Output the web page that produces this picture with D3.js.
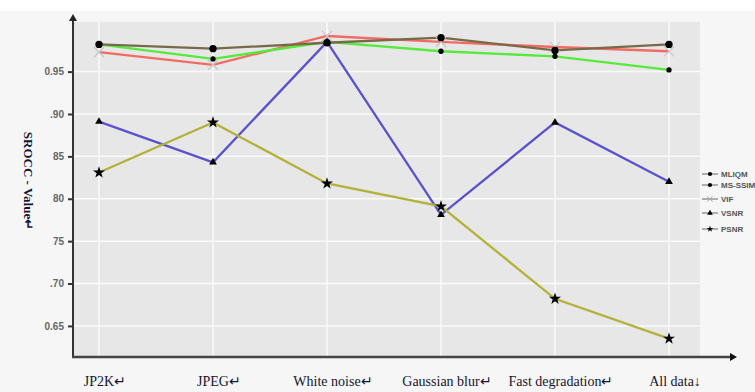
<!DOCTYPE html>
<html>
<head>
<meta charset="utf-8">
<script src="https://cdn.jsdelivr.net/npm/d3@7"></script>
<style>
  body { margin: 0; background: #ffffff; }
  svg { display: block; }
</style>
</head>
<body>
<div id="chart"></div>
<script>
// data
var categories = ["JP2K", "JPEG", "White noise", "Gaussian blur", "Fast degradation", "All data"];
var catLabels = ["JP2K\u21b5", "JPEG\u21b5", "White noise\u21b5", "Gaussian blur\u21b5", "Fast degradation\u21b5", "All data\u2193"];
var seriesNames = ["MLIQM", "MS-SSIM", "VIF", "VSNR", "PSNR"];
var mliqm = [0.982, 0.977, 0.984, 0.990, 0.975, 0.982];
var msssim = [0.982, 0.965, 0.985, 0.974, 0.968, 0.952];
var vif = [0.973, 0.958, 0.992, 0.985, 0.979, 0.974];
var vsnr = [0.891, 0.843, 0.985, 0.781, 0.890, 0.820];
var psnr = [0.831, 0.890, 0.818, 0.791, 0.682, 0.635];
var tickValues = [0.65, 0.70, 0.75, 0.80, 0.85, 0.90, 0.95];
var tickLabels = ["0.65", ".70", "75", "80", "85", ".90", "0.95"];

var svgWidth = 755, svgHeight = 392;
var plot = { left: 74, right: 700, top: 22, bottom: 356 };

var svg = d3.select("#chart").append("svg")
  .attr("width", svgWidth)
  .attr("height", svgHeight);

// page background
svg.append("rect").attr("x", 0).attr("y", 11).attr("width", svgWidth).attr("height", svgHeight - 11)
  .attr("fill", "#f6f6f6");

var x = d3.scalePoint().domain(categories).range([99, 669]);
var y = d3.scaleLinear().domain([0.6145, 1.0085]).range([plot.bottom, plot.top]);

// plot area
svg.append("rect")
  .attr("x", plot.left).attr("y", plot.top)
  .attr("width", plot.right - plot.left).attr("height", plot.bottom - plot.top)
  .attr("fill", "#e7e7e7");

// grid
svg.append("g").selectAll("line.h")
  .data(tickValues)
  .enter().append("line")
  .attr("x1", plot.left).attr("x2", plot.right)
  .attr("y1", d => y(d)).attr("y2", d => y(d))
  .attr("stroke", "#fafafa").attr("stroke-width", 1.5);

svg.append("g").selectAll("line.v")
  .data(categories)
  .enter().append("line")
  .attr("x1", d => x(d)).attr("x2", d => x(d))
  .attr("y1", plot.top).attr("y2", plot.bottom)
  .attr("stroke", "#fafafa").attr("stroke-width", 1.5);

// y axis ticks
var yAxis = d3.axisLeft(y)
  .tickValues(tickValues)
  .tickSize(5)
  .tickPadding(4)
  .tickFormat((d, i) => tickLabels[i]);

var yg = svg.append("g")
  .attr("transform", `translate(${plot.left - 1}, 0)`)
  .call(yAxis);
yg.select(".domain").remove();
yg.selectAll(".tick line").attr("stroke", "#333").attr("stroke-width", 2);
yg.selectAll(".tick text")
  .attr("fill", "#666")
  .style("font-family", "Liberation Sans, Arial, sans-serif")
  .style("font-weight", "bold")
  .style("font-size", "10px");

// axis lines with arrows
svg.append("line")
  .attr("x1", plot.left - 1).attr("x2", plot.left - 1)
  .attr("y1", plot.bottom + 1).attr("y2", 19)
  .attr("stroke", "#333").attr("stroke-width", 2);
svg.append("path")
  .attr("d", `M${plot.left - 5},${21} L${plot.left - 1},${14} L${plot.left + 3},${21} Z`)
  .attr("fill", "#222");

svg.append("line")
  .attr("x1", plot.left - 2).attr("x2", 732)
  .attr("y1", plot.bottom + 1).attr("y2", plot.bottom + 1)
  .attr("stroke", "#444").attr("stroke-width", 2.5);
svg.append("path")
  .attr("d", `M${730},${plot.bottom - 3} L${737},${plot.bottom + 1} L${730},${plot.bottom + 5} Z`)
  .attr("fill", "#111");

// x labels
svg.append("g").selectAll("text")
  .data(categories)
  .enter().append("text")
  .attr("x", (d, i) => x(d) + 6)
  .attr("y", 386)
  .attr("text-anchor", "middle")
  .attr("fill", "#151530")
  .style("font-family", "Liberation Serif, Times New Roman, serif")
  .style("font-size", "14px")
  .text((d, i) => catLabels[i]);

// y title
svg.append("text")
  .attr("transform", "translate(24, 181) rotate(90)")
  .attr("text-anchor", "middle")
  .attr("fill", "#151530")
  .style("font-family", "Liberation Serif, Times New Roman, serif")
  .style("font-weight", "bold")
  .style("font-size", "13px")
  .text("SROCC - Value\u21b5");

// series
var series = [
  { name: seriesNames[0], values: mliqm, color: "#786a48", symbol: d3.symbolCircle, size: 42, fill: "#000", stroke: "none" },
  { name: seriesNames[1], values: msssim, color: "#55ea3c", symbol: d3.symbolCircle, size: 22, fill: "#000", stroke: "none" },
  { name: seriesNames[2], values: vif, color: "#f26b63", symbol: d3.symbolX, size: 70, fill: "none", stroke: "#c8c8c8" },
  { name: seriesNames[3], values: vsnr, color: "#5a52cc", symbol: d3.symbolTriangle, size: 26, fill: "#000", stroke: "none" },
  { name: seriesNames[4], values: psnr, color: "#b2b23a", symbol: d3.symbolStar, size: 45, fill: "#000", stroke: "none" }
];

var line = d3.line()
  .x((d, i) => x(categories[i]))
  .y(d => y(d));

// draw lines in the order they stack in the picture
var drawOrder = [3, 4, 2, 1, 0];
drawOrder.forEach(function(k) {
  var s = series[k];
  svg.append("path")
    .datum(s.values)
    .attr("d", line)
    .attr("fill", "none")
    .attr("stroke", s.color)
    .attr("stroke-width", 2.3);
});

drawOrder.forEach(function(k) {
  var s = series[k];
  svg.append("g").selectAll("path")
    .data(s.values)
    .enter().append("path")
    .attr("transform", (d, i) => `translate(${x(categories[i])}, ${y(d)})`)
    .attr("d", d3.symbol().type(s.symbol).size(s.size))
    .attr("fill", s.fill)
    .attr("stroke", s.stroke)
    .attr("stroke-width", 1.3);
});

// legend
var legendY = [174, 185, 199, 213, 229];
var legend = svg.append("g");
series.forEach(function(s, i) {
  var g = legend.append("g").attr("transform", `translate(702, ${legendY[i]})`);
  g.append("line").attr("x1", 0).attr("x2", 16).attr("y1", 0).attr("y2", 0)
    .attr("stroke", "#666").attr("stroke-width", 1);
  g.append("path")
    .attr("transform", "translate(8,0)")
    .attr("d", d3.symbol().type(s.symbol).size(s.symbol === d3.symbolX ? 20 : 14))
    .attr("fill", s.fill)
    .attr("stroke", s.symbol === d3.symbolX ? "#aaa" : "none");
  g.append("text")
    .attr("x", 19).attr("y", 3)
    .attr("fill", "#555")
    .style("font-family", "Liberation Sans, Arial, sans-serif")
    .style("font-weight", "bold")
    .style("font-size", "8px")
    .text(s.name);
});
</script>
</body>
</html>
